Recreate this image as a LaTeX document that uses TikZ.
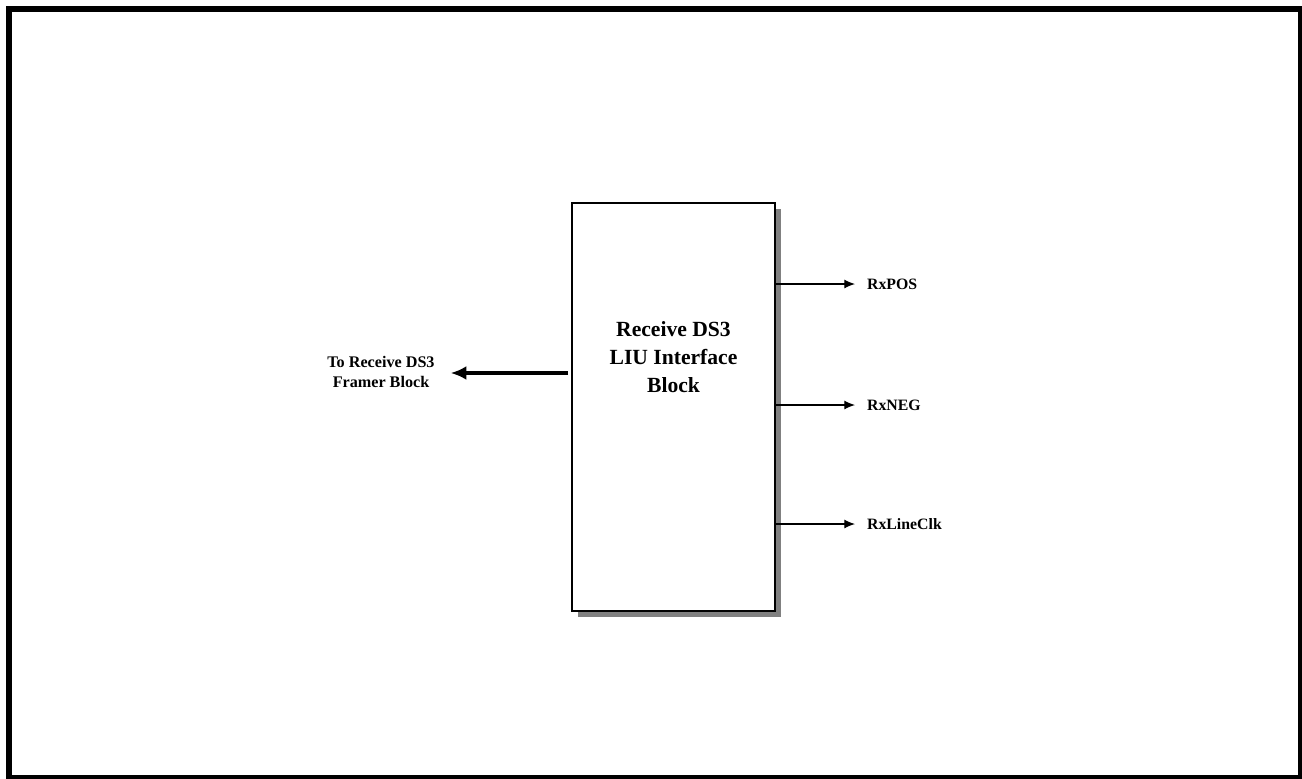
\documentclass[tikz,border=0pt]{standalone}
\usepackage{fontspec}
\setmainfont{Liberation Serif}
\usetikzlibrary{positioning,arrows.meta,shadows}

\begin{document}
\begin{tikzpicture}[
  x=0.02cm, y=-0.02cm,
  block/.style={draw, line width=0.7pt, fill=white, minimum width=4.06cm, minimum height=8.16cm,
                inner sep=0pt, outer sep=0pt,
                drop shadow={shadow xshift=0.12cm, shadow yshift=-0.12cm, fill=black!50, opacity=1}},
  sig/.style={-{Latex[length=6pt,width=5pt]}, line width=0.6pt},
  bigarr/.style={-{Latex[length=9pt,width=8pt]}, line width=2pt},
  lbl/.style={font=\bfseries\fontsize{9}{10}\selectfont, inner sep=1pt}
]
  \useasboundingbox (0,0) rectangle (1302,778);
  % outer frame
  \draw[line width=0.12cm] (9,9) rectangle (1301,778);

  \node[block] (liu) at (673.5,407) {};
  \node[align=center, font=\bfseries\fontsize{12.3}{16}\selectfont] (liutxt) at (673.5,357)
    {Receive DS3\\LIU Interface\\Block};

  % output signals
  \coordinate (pos) at (775,284);
  \coordinate (neg) at (775,405);
  \coordinate (clk) at (775,524);
  \node[lbl, anchor=west] (rxpos) at (865,284) {RxPOS};
  \node[lbl, anchor=west] (rxneg) at (865,405) {RxNEG};
  \node[lbl, anchor=west] (rxclk) at (865,524) {RxLineClk};
  \draw[sig] (pos) -- ([xshift=-0.2cm]rxpos.west);
  \draw[sig] (neg) -- ([xshift=-0.2cm]rxneg.west);
  \draw[sig] (clk) -- ([xshift=-0.2cm]rxclk.west);

  % to framer
  \coordinate (src) at (568,373);
  \node[font=\bfseries\fontsize{9.2}{11.5}\selectfont, align=center, inner sep=1pt] (framer) at (381,372)
    {To Receive DS3\\Framer Block};
  \draw[bigarr] (src) -- ([xshift=0.28cm]src -| framer.east);
\end{tikzpicture}
\end{document}
